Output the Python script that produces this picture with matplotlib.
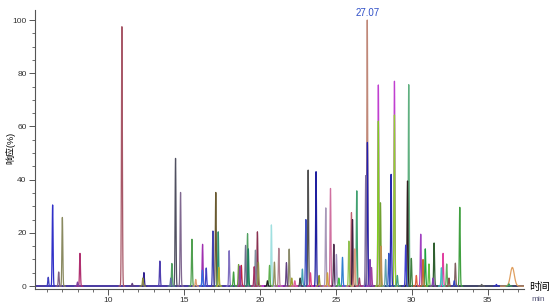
import numpy as np
import matplotlib
matplotlib.use("Agg")
import matplotlib.pyplot as plt
from matplotlib.ticker import MultipleLocator, FixedLocator

plt.rcParams['font.family'] = ['Liberation Sans', 'Noto Sans CJK SC', 'DejaVu Sans']

# retention time (min), relative response (%), trace colour
peak_times = [6.07, 6.36, 6.76, 7.00, 8.00, 8.16, 10.92, 11.6, 12.30, 12.37,
              13.42, 14.14, 14.21, 14.45, 14.78, 15.53, 15.78, 16.23, 16.22, 16.47,
              16.91, 17.10, 17.26, 17.30, 17.98, 18.27, 18.60, 18.68, 18.78, 19.06,
              19.19, 19.24, 19.63, 19.71, 19.84, 19.90, 20.50, 20.64, 20.76, 20.96,
              21.25, 21.75, 21.93, 22.10, 22.30, 22.65, 22.80, 23.03, 23.18, 23.33,
              23.70, 23.90, 24.34, 24.45, 24.65, 24.87, 25.04, 25.20, 25.44, 25.86,
              26.03, 26.10, 26.25, 26.38, 26.55, 26.97, 27.07, 27.08, 27.25, 27.35,
              27.80, 27.80, 27.94, 27.98, 28.28, 28.49, 28.64, 28.86, 28.86, 29.05,
              29.60, 29.72, 29.80, 29.97, 30.30, 30.59, 30.74, 30.89, 31.13, 31.40,
              31.47, 31.95, 32.06, 32.30, 32.45, 32.80, 32.87, 33.16, 34.60, 35.57,
              36.40, 36.62]
peak_heights = [3.3, 30.5, 5.3, 25.8, 1.5, 12.3, 97.5, 1.0, 3.0, 5.1,
                9.4, 3.0, 8.5, 48.0, 35.2, 17.6, 2.5, 15.7, 6.0, 6.8,
                20.7, 35.2, 20.4, 7.0, 13.3, 5.3, 8.1, 7.5, 7.8, 15.3,
                19.7, 14.0, 7.3, 13.5, 20.4, 9.0, 2.0, 7.8, 23.0, 9.0,
                14.2, 8.8, 13.9, 3.0, 2.0, 3.0, 6.4, 25.0, 43.6, 5.0,
                43.0, 4.0, 29.4, 5.0, 36.7, 15.7, 11.9, 3.0, 10.8, 16.9,
                27.6, 25.0, 14.0, 35.8, 3.0, 41.5, 100.0, 54.0, 10.0, 7.0,
                75.6, 62.0, 31.3, 15.0, 10.0, 12.3, 42.0, 77.0, 64.3, 4.0,
                15.4, 39.5, 75.7, 10.4, 4.0, 19.5, 10.0, 14.0, 8.3, 3.0,
                16.2, 6.9, 12.3, 8.3, 3.0, 2.0, 8.6, 29.6, 0.6, 0.6,
                0.8, 7.0]
peak_colors = ['#4040c0', '#3030c8', '#806080', '#8a8a60', '#8040a0', '#b03070', '#a85868', '#604080', '#8a8a40', '#302090',
               '#5040b0', '#6070a0', '#50a060', '#505060', '#806890', '#50a050', '#e0a070', '#a030b0', '#3070e0', '#4040c0',
               '#4040b0', '#6a5a30', '#30906a', '#b0b030', '#8070c0', '#40a040', '#70a040', '#9040a0', '#c02040', '#707090',
               '#50a060', '#208060', '#a03060', '#8090a0', '#8a3050', '#909050', '#202020', '#60b050', '#a0e0e0', '#909060',
               '#b08090', '#604080', '#8a8a6a', '#a0a030', '#e060a0', '#404040', '#40a0b0', '#4050c0', '#505050', '#e04080',
               '#2020a0', '#909030', '#a898b8', '#d0a040', '#d070a0', '#503050', '#a090c0', '#40c040', '#3080d0', '#90c050',
               '#c06070', '#402040', '#e0a080', '#40a070', '#a04060', '#8070a0', '#c08878', '#2020b0', '#8040b0', '#a040a0',
               '#c040d0', '#80d020', '#70a030', '#c09050', '#60a0b0', '#3050c0', '#2828b0', '#c040d0', '#90d030', '#40a080',
               '#4040d0', '#302020', '#60b080', '#408040', '#e06040', '#a040c0', '#c07030', '#20a040', '#60c040', '#8040b0',
               '#306030', '#40c0c0', '#e040a0', '#60b060', '#905050', '#3040c0', '#806060', '#40a040', '#606060', '#3030c0',
               '#40a060', '#e0a060']

apex_label = '27.07'
apex_time = 27.07

fig = plt.figure(figsize=(5.54, 3.07), dpi=100)
ax = fig.add_axes([0.0632, 0.0586, 0.883, 0.909])

# baselines of the overlaid traces
ax.plot([5.2, 37.4], [0, 0], color='#3a2a9a', lw=1.3, zorder=1)
ax.plot([18.9, 27.2], [0, 0], color='#e030e0', lw=1.1, zorder=1)
ax.plot([27.2, 37.4], [0, 0], color='#404a5a', lw=1.1, zorder=1)

for t, h, c in zip(peak_times, peak_heights, peak_colors):
    sigma = 0.13 if t > 36.5 else 0.03
    x = np.linspace(t - 6 * sigma, t + 6 * sigma, 121)
    y = h * np.exp(-0.5 * ((x - t) / sigma) ** 2)
    ax.plot(x, y, color=c, lw=0.9, zorder=2 + (100 - h) / 100)

ax.text(apex_time, 100.8, apex_label, color='#3050c8', fontsize=7,
        ha='center', va='bottom')

ax.set_xlim(5.2, 37.4)
ax.set_ylim(-1.1, 103.8)
ax.xaxis.set_major_locator(FixedLocator([10, 15, 20, 25, 30, 35]))
ax.xaxis.set_minor_locator(MultipleLocator(1))
ax.yaxis.set_major_locator(MultipleLocator(20))
ax.yaxis.set_minor_locator(MultipleLocator(5))

for side in ['top', 'right']:
    ax.spines[side].set_visible(False)
for side in ['left', 'bottom']:
    ax.spines[side].set_color('#555555')
    ax.spines[side].set_linewidth(0.8)

ax.tick_params(which='major', length=4, width=0.7, color='#555555',
               labelsize=6, labelcolor='#333333', pad=2)
ax.tick_params(which='minor', length=2.5, width=0.6, color='#555555')

fig.text(0.018, 0.518, '响应(%)', rotation=90, fontsize=6.5, ha='center', va='center')
fig.text(0.956, 0.066, '时间', fontsize=7.5, ha='left', va='center')
fig.text(0.96, 0.025, 'min', fontsize=6, ha='left', va='center', color='#555577')

fig.savefig('out.png', dpi=100)
